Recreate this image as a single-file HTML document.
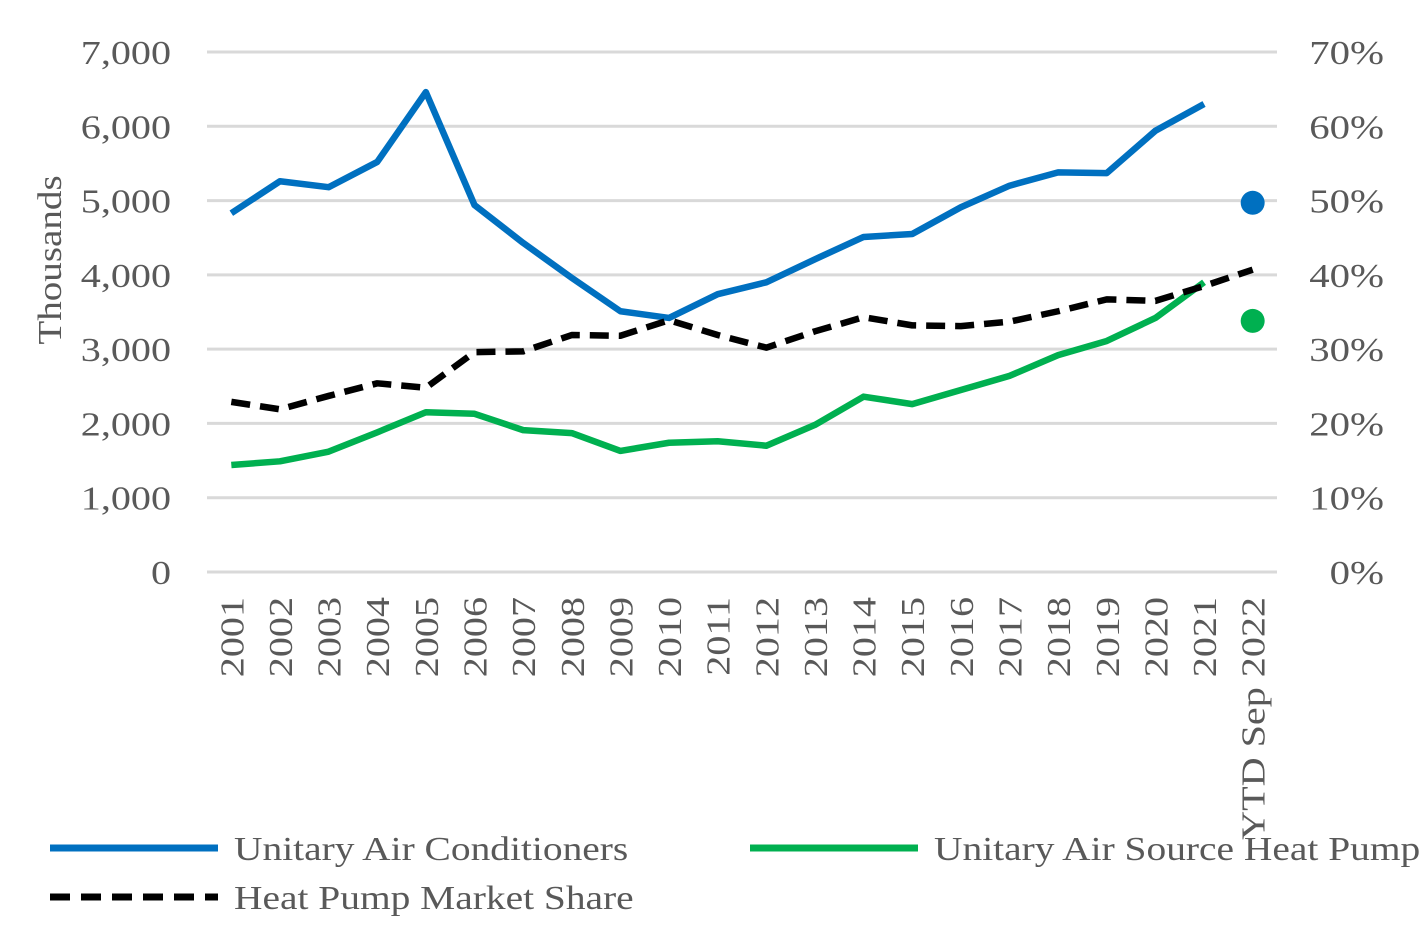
<!DOCTYPE html>
<html><head><meta charset="utf-8"><style>
html,body{margin:0;padding:0;background:#fff;}
svg{display:block;font-family:"Liberation Serif",serif;}
</style></head><body>
<svg id="chart" width="1420" height="927" viewBox="0 0 1420 927" xmlns="http://www.w3.org/2000/svg">
<g id="grid"></g>
<g id="ylabels"></g>
<g id="y2labels"></g>
<g id="xlabels"></g>
<text transform="translate(61,260) rotate(-90) scale(1.15,1)" text-anchor="middle" font-size="34" fill="#595959">Thousands</text>
<g id="series"></g>
<g>
<g>
<line x1="50" y1="848" x2="218" y2="848" stroke="#0070C0" stroke-width="7"/>
<text transform="translate(234,860) scale(1.16,1)" font-size="34" fill="#595959">Unitary Air Conditioners</text></g>
<g>
<line x1="750" y1="848" x2="918" y2="848" stroke="#00B050" stroke-width="7"/>
<text transform="translate(934,860) scale(1.16,1)" font-size="34" fill="#595959">Unitary Air Source Heat Pump</text></g>
<g>
<line x1="50" y1="897" x2="218" y2="897" stroke="#000" stroke-width="7" stroke-dasharray="20,11"/>
<text transform="translate(234,909) scale(1.16,1)" font-size="34" fill="#595959">Heat Pump Market Share</text></g>
</g>
</svg>
<script>
const categories=["2001","2002","2003","2004","2005","2006","2007","2008","2009","2010","2011","2012","2013","2014","2015","2016","2017","2018","2019","2020","2021","YTD Sep 2022"];
const acValues=[4830,5260,5180,5520,6460,4940,4430,3960,3510,3420,3740,3900,4210,4510,4550,4910,5200,5380,5370,5940,6300,4970];
const hpValues=[1440,1490,1620,1880,2150,2130,1910,1870,1630,1740,1760,1700,1980,2360,2260,2450,2640,2920,3110,3420,3900,3380];
const shareValues=[22.9,21.9,23.7,25.4,24.8,29.6,29.7,31.9,31.8,33.9,31.9,30.2,32.4,34.3,33.2,33.1,33.7,35.1,36.7,36.5,38.5,40.7];
const leftTicks=[0,1000,2000,3000,4000,5000,6000,7000];
const rightTicks=[0,10,20,30,40,50,60,70];
const NS="http://www.w3.org/2000/svg";
const L=207,R=1277,T=52,B=572;
const band=(R-L)/categories.length;
const x=i=>L+band*(i+0.5);
const y=v=>B-(v/7000)*(B-T);
const y2=v=>B-(v/70)*(B-T);
function mk(tag,attrs,parent){const e=document.createElementNS(NS,tag);for(const k in attrs)e.setAttribute(k,attrs[k]);parent.appendChild(e);return e;}
const grid=document.getElementById('grid'),yl=document.getElementById('ylabels'),y2l=document.getElementById('y2labels'),xl=document.getElementById('xlabels'),ser=document.getElementById('series');
leftTicks.forEach(t=>{
 const ln=mk('line',{x1:L,x2:R,y1:y(t),y2:y(t),stroke:'#d9d9d9','stroke-width':3},grid);
 
 
 const tx=mk('text',{transform:`translate(171,${y(t)+12}) scale(1.18,1)`,'text-anchor':'end','font-size':34,fill:'#595959'},yl);
 tx.textContent=t.toLocaleString('en-US');
 
 
});
rightTicks.forEach(t=>{
 const tx=mk('text',{transform:`translate(1384,${y2(t)+12}) scale(1.2,1)`,'text-anchor':'end','font-size':34,fill:'#595959'},y2l);
 tx.textContent=t+'%';
 
 
});
categories.forEach((c,i)=>{
 const tx=mk('text',{transform:`translate(${x(i)+12},597) rotate(-90) scale(1.18,1)`,'text-anchor':'end','font-size':34,fill:'#595959'},xl);
 tx.textContent=c;
 
 
});
function line(vals,fy,color,dash,name){
 const pts=vals.map((v,i)=>x(i)+','+fy(v)).join(' ');
 const p=mk('polyline',{points:pts,fill:'none',stroke:color,'stroke-width':6.5,'stroke-linejoin':'round'},ser);
 if(dash)p.setAttribute('stroke-dasharray',dash);
 
 
}
line(acValues.slice(0,21),y,'#0070C0',null,'air-conditioners-line');
line(hpValues.slice(0,21),y,'#00B050',null,'heat-pump-line');
line(shareValues,y2,'#000','19,10','market-share-line');
const d1=mk('circle',{cx:x(21),cy:y(acValues[21]),r:12,fill:'#0070C0'},ser);


const d2=mk('circle',{cx:x(21),cy:y(hpValues[21]),r:12,fill:'#00B050'},ser);


</script>
</body></html>
